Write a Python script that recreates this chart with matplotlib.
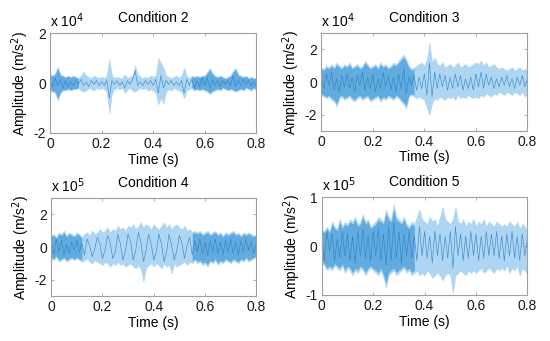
import numpy as np
import matplotlib
matplotlib.use("Agg")
import matplotlib.pyplot as plt

plt.rcParams['font.family'] = ['Liberation Sans', 'DejaVu Sans']

# time axis, 0.01 s steps
t = np.round(np.arange(81) * 0.01, 2)

# Condition 2 (x 10^4)
c2_up = [0.35, 0.3, 0.4, 0.65, 0.35, 0.3, 0.25, 0.3, 0.25, 0.3,
         0.25, 0.2, 0.3, 0.45, 0.3, 0.25, 0.2, 0.3, 0.25, 0.2,
         0.25, 0.2, 0.3, 0.95, 0.3, 0.2, 0.25, 0.2, 0.2, 0.35,
         0.2, 0.25, 0.3, 0.7, 0.35, 0.25, 0.2, 0.25, 0.2, 0.3,
         0.25, 0.3, 1.0, 0.8, 0.6, 0.3, 0.25, 0.2, 0.25, 0.3,
         0.2, 0.3, 0.6, 0.3, 0.2, 0.3, 0.25, 0.3, 0.25, 0.3,
         0.3, 0.45, 0.6, 0.4, 0.3, 0.25, 0.3, 0.25, 0.2, 0.25,
         0.3, 0.5, 0.6, 0.35, 0.3, 0.25, 0.3, 0.2, 0.25, 0.2, 0.2]
c2_lo = [-0.3, -0.35, -0.4, -0.7, -0.4, -0.3, -0.3, -0.25, -0.3, -0.25,
         -0.25, -0.2, -0.3, -0.35, -0.3, -0.2, -0.25, -0.3, -0.2, -0.25,
         -0.2, -0.25, -0.35, -1.2, -0.4, -0.25, -0.2, -0.25, -0.2, -0.4,
         -0.25, -0.2, -0.3, -0.35, -0.25, -0.2, -0.25, -0.2, -0.3, -0.25,
         -0.3, -0.4, -0.85, -0.6, -0.8, -0.35, -0.25, -0.3, -0.2, -0.25,
         -0.3, -0.35, -0.6, -0.3, -0.25, -0.2, -0.3, -0.25, -0.3, -0.25,
         -0.3, -0.35, -0.45, -0.35, -0.3, -0.25, -0.3, -0.2, -0.25, -0.3,
         -0.25, -0.3, -0.35, -0.3, -0.25, -0.3, -0.2, -0.25, -0.3, -0.2, -0.3]
c2_tr = [0.1, -0.15, 0.2, -0.1, 0.15, -0.2, 0.1, -0.15, 0.05, -0.1,
         0.1, -0.05, 0.15, -0.1, 0.05, -0.15, 0.1, -0.05, 0.1, -0.1,
         0.05, -0.1, 0.1, -0.6, 0.1, -0.05, 0.1, -0.1, 0.05, -0.2,
         0.1, -0.05, 0.15, 0.5, -0.1, 0.05, -0.1, 0.1, -0.05, 0.1,
         -0.1, 0.15, -0.4, 0.3, -0.2, 0.1, -0.05, 0.1, -0.1, 0.05,
         -0.1, 0.1, -0.4, 0.15, -0.1, 0.15, -0.2, 0.1, -0.15, 0.2,
         -0.1, 0.2, -0.2, 0.15, -0.1, 0.1, -0.15, 0.1, -0.05, 0.1,
         -0.1, 0.3, -0.15, 0.1, -0.1, 0.15, -0.05, 0.1, -0.1, 0.05, -0.1]

# Condition 3 (x 10^4)
c3_up = [0.9, 0.8, 1.0, 0.9, 1.1, 0.9, 1.2, 1.0, 0.9, 1.1,
         1.0, 1.2, 0.9, 1.0, 1.1, 0.9, 1.0, 1.3, 1.1, 0.9,
         1.0, 1.1, 0.9, 1.2, 1.0, 1.1, 0.9, 1.0, 1.2, 1.1,
         1.3, 1.5, 1.7, 1.4, 1.0, 0.8, 0.9, 1.0, 1.1, 1.2,
         1.0, 1.4, 2.4, 1.2, 1.5, 1.1, 1.0, 1.2, 0.9, 1.0,
         1.1, 0.9, 1.0, 1.2, 0.9, 1.0, 1.1, 0.9, 1.0, 1.1,
         1.2, 1.1, 1.3, 1.0, 1.2, 0.9, 1.0, 1.1, 0.9, 0.8,
         0.9, 0.8, 0.7, 0.8, 0.9, 0.7, 0.8, 0.9, 0.7, 0.8, 0.7]
c3_lo = [-0.8, -0.9, -1.0, -0.9, -1.1, -1.2, -1.5, -1.0, -0.9, -1.1,
         -1.0, -0.9, -1.1, -1.2, -1.0, -0.9, -1.1, -1.0, -0.9, -1.2,
         -1.1, -1.0, -0.9, -1.2, -1.0, -1.1, -0.9, -1.0, -1.1, -0.9,
         -1.0, -1.2, -1.4, -1.6, -0.9, -0.8, -0.9, -1.0, -0.9, -1.0,
         -1.1, -1.6, -2.0, -1.3, -1.0, -1.1, -0.9, -1.0, -1.1, -0.9,
         -1.0, -0.9, -1.1, -0.8, -1.0, -0.9, -1.0, -0.8, -0.9, -1.0,
         -0.9, -1.0, -0.8, -0.9, -0.7, -0.8, -0.9, -0.7, -0.8, -0.6,
         -0.7, -0.8, -0.6, -0.7, -0.8, -0.6, -0.7, -0.8, -0.6, -0.9, -0.7]
c3_tr = [0.3, -0.4, 0.5, -0.2, 0.6, -0.5, 0.2, -0.6, 0.4, -0.3,
         0.5, -0.4, 0.3, -0.6, 0.4, -0.2, 0.6, -0.5, 0.3, -0.4,
         0.5, -0.6, 0.2, -0.4, 0.6, -0.3, 0.4, -0.5, 0.3, -0.6,
         0.5, -0.4, 0.8, -0.7, 0.3, -0.2, 0.4, -0.5, 0.3, -0.4,
         0.5, -0.8, 1.2, -0.9, 0.6, -0.4, 0.5, -0.3, 0.4, -0.5,
         0.3, -0.4, 0.5, -0.3, 0.4, -0.5, 0.2, -0.4, 0.3, -0.5,
         0.5, -0.3, 0.6, -0.4, 0.5, -0.2, 0.3, -0.4, 0.2, -0.3,
         0.3, -0.2, 0.4, -0.3, 0.2, -0.4, 0.3, -0.2, 0.4, -0.3, 0.2]

# Condition 4 (x 10^5)
c4_up = [0.7, 0.8, 0.6, 0.9, 0.8, 1.0, 0.7, 0.9, 0.8, 0.7,
         0.9, 0.8, 0.6, 0.8, 0.9, 0.7, 1.0, 0.8, 0.9, 1.1,
         0.9, 1.0, 1.2, 0.9, 1.1, 1.0, 1.3, 1.1, 1.2, 1.0,
         1.3, 1.2, 1.4, 1.1, 1.3, 1.5, 1.2, 1.4, 1.3, 1.1,
         1.4, 1.2, 1.1, 1.3, 1.5, 1.2, 1.4, 1.1, 1.3, 1.4,
         1.2, 1.1, 1.3, 1.0, 1.1, 0.9, 1.0, 0.9, 1.0, 0.8,
         0.9, 1.0, 0.8, 0.9, 1.0, 0.8, 0.9, 0.7, 0.9, 0.8,
         0.9, 1.0, 0.8, 0.9, 0.7, 0.9, 0.8, 0.9, 0.8, 0.7, 0.8]
c4_lo = [-0.7, -0.8, -0.6, -0.9, -0.8, -0.7, -0.9, -0.8, -0.7, -0.8,
         -0.7, -0.8, -0.9, -0.8, -0.7, -0.9, -1.0, -0.8, -0.9, -1.0,
         -1.1, -0.9, -1.0, -1.2, -1.0, -1.1, -0.9, -1.1, -1.0, -1.2,
         -1.1, -1.0, -1.2, -1.3, -1.1, -1.4, -2.1, -1.3, -1.1, -1.0,
         -1.2, -1.0, -1.1, -1.3, -1.0, -1.2, -1.1, -1.6, -1.0, -1.2,
         -1.1, -1.0, -0.9, -1.1, -0.9, -1.0, -0.8, -1.0, -0.9, -1.1,
         -1.0, -1.2, -0.9, -1.0, -0.8, -1.1, -0.9, -1.0, -0.8, -0.9,
         -1.0, -0.8, -0.9, -1.0, -0.8, -0.9, -0.7, -0.9, -0.8, -0.7, -0.6]
c4_tr = [0.3, -0.4, 0.5, -0.3, 0.4, -0.5, 0.2, -0.4, 0.3, -0.2,
         0.4, -0.3, 0.2, -0.5, 0.5, 0.1, -0.6, -0.1, 0.6, 0.2,
         -0.7, -0.2, 0.7, 0.3, -0.7, -0.3, 0.8, 0.2, -0.8, -0.2,
         0.8, 0.3, -0.8, -0.2, 0.9, 0.3, -0.9, -0.2, 0.8, 0.2,
         -0.8, -0.3, 0.8, 0.2, -0.9, -0.3, 0.8, 0.1, -0.8, -0.2,
         0.7, 0.2, -0.7, 0.1, 0.6, -0.5, 0.4, -0.3, 0.5, -0.4,
         0.3, -0.5, 0.4, -0.3, 0.5, -0.4, 0.3, -0.5, 0.4, -0.3,
         0.5, -0.4, 0.3, -0.5, 0.4, -0.3, 0.5, -0.2, 0.3, -0.4, 0.2]

# Condition 5 (x 10^5)
c5_up = [0.35, 0.3, 0.4, 0.3, 0.5, 0.4, 0.35, 0.55, 0.4, 0.5,
         0.45, 0.55, 0.5, 0.6, 0.45, 0.5, 0.65, 0.5, 0.55, 0.4,
         0.45, 0.5, 0.6, 0.55, 0.5, 0.75, 0.6, 0.55, 0.85, 0.6,
         0.55, 0.5, 0.6, 0.45, 0.4, 0.5, 0.45, 0.6, 0.75, 0.55,
         0.5, 0.45, 0.6, 0.5, 0.55, 0.4, 0.6, 0.8, 0.55, 0.5,
         0.45, 0.55, 0.8, 0.5, 0.45, 0.55, 0.4, 0.5, 0.45, 0.55,
         0.4, 0.5, 0.45, 0.55, 0.4, 0.5, 0.45, 0.4, 0.5, 0.45,
         0.4, 0.45, 0.4, 0.5, 0.45, 0.4, 0.5, 0.35, 0.45, 0.4, 0.3]
c5_lo = [-0.35, -0.4, -0.5, -0.45, -0.5, -0.4, -0.45, -0.5, -0.4, -0.55,
         -0.45, -0.5, -0.6, -0.5, -0.55, -0.45, -0.5, -0.6, -0.5, -0.45,
         -0.5, -0.55, -0.6, -0.5, -0.65, -0.85, -0.6, -0.55, -0.5, -0.6,
         -0.55, -0.5, -0.45, -0.55, -0.5, -0.6, -0.55, -0.5, -0.6, -0.55,
         -0.6, -0.5, -0.55, -0.65, -0.6, -0.55, -0.6, -0.7, -0.6, -0.55,
         -0.6, -0.95, -0.6, -0.55, -0.5, -0.55, -0.6, -0.5, -0.55, -0.5,
         -0.55, -0.5, -0.45, -0.55, -0.5, -0.45, -0.5, -0.55, -0.45, -0.5,
         -0.45, -0.5, -0.4, -0.55, -0.45, -0.5, -0.4, -0.6, -0.45, -0.5, -0.6]
c5_tr = [0.2, -0.3, 0.3, -0.1, 0.25, -0.3, 0.15, -0.25, 0.3, -0.2,
         0.25, -0.3, 0.2, -0.35, 0.3, -0.2, 0.35, -0.25, 0.2, -0.3,
         0.3, -0.2, 0.35, -0.3, 0.25, -0.4, 0.4, -0.3, 0.5, -0.25,
         0.3, -0.35, 0.25, -0.2, 0.3, -0.25, 0.2, -0.3, 0.4, -0.2,
         0.3, -0.25, 0.2, -0.35, 0.3, -0.2, 0.25, -0.3, 0.2, -0.25,
         0.3, -0.45, 0.4, -0.2, 0.25, -0.3, 0.2, -0.25, 0.3, -0.2,
         0.25, -0.3, 0.2, -0.25, 0.3, -0.2, 0.25, -0.2, 0.3, -0.25,
         0.2, -0.3, 0.25, -0.2, 0.3, -0.25, 0.2, -0.3, 0.25, -0.2, 0.15]

titles = ['Condition 2', 'Condition 3', 'Condition 4', 'Condition 5']
exps = [4, 4, 5, 5]
ylims = [2, 3, 3, 1]
yticks = [[-2, 0, 2], [-2, 0, 2], [-2, 0, 2], [-1, 0, 1]]
dark_spans = [[(0, 0.11), (0.55, 0.8)], [(0, 0.36)], [(0, 0.12), (0.55, 0.8)], [(0, 0.36)]]
uppers = [c2_up, c3_up, c4_up, c5_up]
lowers = [c2_lo, c3_lo, c4_lo, c5_lo]
traces = [c2_tr, c3_tr, c4_tr, c5_tr]

light = '#aed5f2'
dark = '#62abdf'
line = '#2a80c4'

fig = plt.figure(figsize=(5.5, 3.41), dpi=100)
rects = [[0.091, 0.61, 0.375, 0.293], [0.584, 0.616, 0.375, 0.287],
         [0.093, 0.132, 0.373, 0.287], [0.585, 0.135, 0.374, 0.287]]

for i in range(4):
    ax = fig.add_axes(rects[i])
    up = np.array(uppers[i])
    lo = np.array(lowers[i])
    ax.fill_between(t, lo, up, color=light, lw=0.4, edgecolor=light)
    for s, e in dark_spans[i]:
        m = (t >= s - 1e-9) & (t <= e + 1e-9)
        ax.fill_between(t[m], lo[m] * 0.9, up[m] * 0.9, color=dark, lw=0)
    ax.plot(t, traces[i], color=line, lw=0.45, alpha=0.85)

    ax.set_xlim(0, 0.8)
    ax.set_ylim(-ylims[i], ylims[i])
    ax.set_xticks([0, 0.2, 0.4, 0.6, 0.8])
    ax.set_xticklabels(['0', '0.2', '0.4', '0.6', '0.8'])
    ax.set_yticks(yticks[i])
    ax.set_yticklabels([str(v) for v in yticks[i]])
    ax.tick_params(direction='in', length=2, width=0.6, colors='#a0a0a0',
                   labelcolor='#1a1a1a', labelsize=10, top=True, right=True, pad=3)
    for sp in ax.spines.values():
        sp.set_color('#a0a0a0')
        sp.set_linewidth(0.8)
    ax.set_title(titles[i], fontsize=10, pad=8)
    ax.set_xlabel('Time (s)', fontsize=10, labelpad=1)
    ax.set_ylabel('Amplitude (m/s$^2$)', fontsize=10, labelpad=2)
    ax.text(0.0, 1.03, 'x 10$^{%d}$' % exps[i], transform=ax.transAxes,
            fontsize=10, ha='left', va='bottom')

fig.savefig('out.png', dpi=100)
